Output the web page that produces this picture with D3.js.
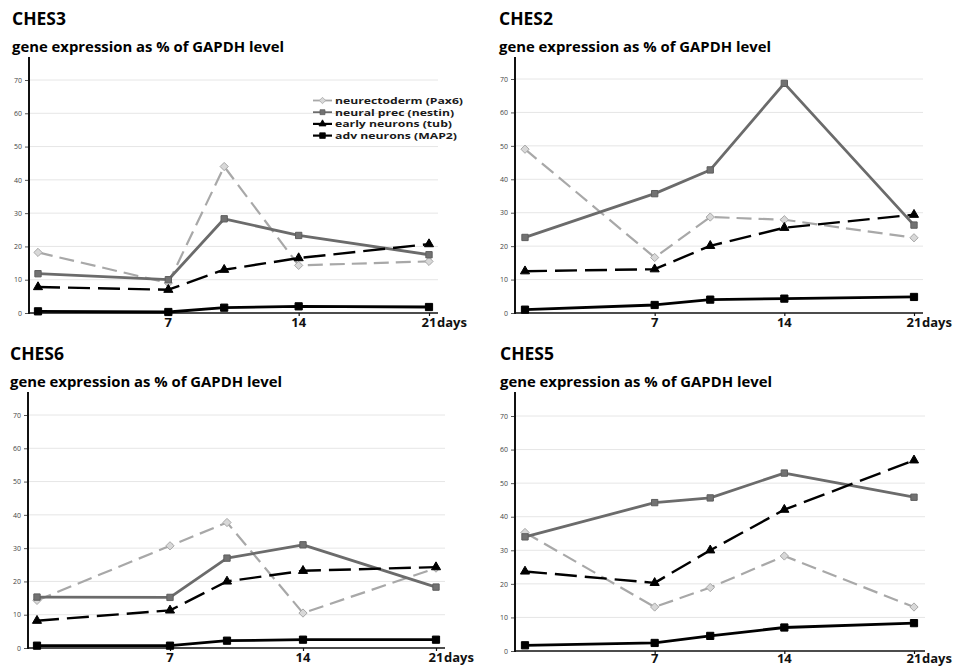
<!DOCTYPE html>
<html>
<head>
<meta charset="utf-8">
<script src="https://cdn.jsdelivr.net/npm/d3@7"></script>
<style>
  html, body { margin: 0; padding: 0; background: #ffffff; }
  svg { display: block; }
  text { font-family: "Open Sans", "Noto Sans", sans-serif; }
</style>
</head>
<body>
<svg id="chart" width="956" height="668"></svg>
<script>
// Sampling days (x values)
const days = [0, 7, 10, 14, 21];
const xTickDays = [7, 14, 21];
const xTickLabels = ["7", "14", "21"];
const xUnit = "days";
const yTicks = [0, 10, 20, 30, 40, 50, 60, 70];

const panelNames = ["CHES3", "CHES2", "CHES6", "CHES5"];
const yTitle = "gene expression as % of GAPDH level";
const seriesNames = ["neurectoderm (Pax6)", "neural prec (nestin)", "early neurons (tub)", "adv neurons (MAP2)"];

// Expression values (% of GAPDH) per line, per time point
const ches3Pax6   = [18.2, 9.0, 44.0, 14.3, 15.5];
const ches3Nestin = [11.8, 10.0, 28.3, 23.3, 17.5];
const ches3Tub    = [7.8, 7.0, 13.0, 16.5, 20.7];
const ches3Map2   = [0.5, 0.3, 1.6, 2.0, 1.8];

const ches2Pax6   = [49.0, 16.6, 28.7, 27.9, 22.5];
const ches2Nestin = [22.6, 35.7, 42.8, 68.7, 26.3];
const ches2Tub    = [12.5, 13.1, 20.1, 25.5, 29.4];
const ches2Map2   = [1.0, 2.4, 4.0, 4.3, 4.8];

const ches6Pax6   = [14.3, 30.7, 37.7, 10.5, 24.0];
const ches6Nestin = [15.3, 15.2, 27.0, 31.0, 18.3];
const ches6Tub    = [8.2, 11.3, 20.0, 23.2, 24.3];
const ches6Map2   = [0.7, 0.7, 2.2, 2.5, 2.5];

const ches5Pax6   = [35.3, 13.1, 18.9, 28.3, 13.1];
const ches5Nestin = [34.0, 44.2, 45.6, 53.0, 45.8];
const ches5Tub    = [23.7, 20.3, 30.0, 42.1, 56.8];
const ches5Map2   = [1.7, 2.4, 4.5, 7.0, 8.3];

const panelValues = [
  [ches3Pax6, ches3Nestin, ches3Tub, ches3Map2],
  [ches2Pax6, ches2Nestin, ches2Tub, ches2Map2],
  [ches6Pax6, ches6Nestin, ches6Tub, ches6Map2],
  [ches5Pax6, ches5Nestin, ches5Tub, ches5Map2]
];

// Panel placement
const layout = [
  { axisX: 29,  d0: 38,  d21: 429, base: 313, top70: 80,  gridEnd: 438, axisTop: 57,  titleX: 12,  titleY: 25,  subY: 52,  tickY: 327 },
  { axisX: 515, d0: 525, d21: 914, base: 313, top70: 79,  gridEnd: 923, axisTop: 57,  titleX: 499, titleY: 25,  subY: 52,  tickY: 327 },
  { axisX: 28,  d0: 37,  d21: 436, base: 648, top70: 415, gridEnd: 445, axisTop: 392, titleX: 10,  titleY: 360, subY: 387, tickY: 662 },
  { axisX: 515, d0: 525, d21: 914, base: 651, top70: 416, gridEnd: 925, axisTop: 392, titleX: 500, titleY: 360, subY: 387, tickY: 663 }
];

// Legend text widths
const legendWidths = [128, 119, 117, 122];

// Diamond marker: a square turned 45 degrees
const diamond = {
  draw(ctx, size) {
    const r = Math.sqrt(size / 2);
    ctx.moveTo(0, -r); ctx.lineTo(r, 0); ctx.lineTo(0, r); ctx.lineTo(-r, 0); ctx.closePath();
  }
};

// Series styling
const styles = [
  { stroke: "#a8a8a8", width: 2.2, dash: "15,7", symbol: diamond,          size: 34, fill: "#d8d8d8", mstroke: "#a8a8a8" },
  { stroke: "#6b6b6b", width: 2.8, dash: null,   symbol: d3.symbolSquare,  size: 40, fill: "#727272", mstroke: "#5e5e5e" },
  { stroke: "#000000", width: 2.4, dash: "22,8", symbol: d3.symbolTriangle,size: 36, fill: "#000000", mstroke: "#000000" },
  { stroke: "#000000", width: 2.8, dash: null,   symbol: d3.symbolSquare,  size: 52, fill: "#000000", mstroke: "#000000" }
];

const svg = d3.select("#chart");

panelNames.forEach((name, pi) => {
  const L = layout[pi];
  const g = svg.append("g");
  const x = d3.scaleLinear().domain([0, 21]).range([L.d0, L.d21]);
  const y = d3.scaleLinear().domain([0, 70]).range([L.base, L.top70]);

  // Titles
  g.append("text").attr("x", L.titleX).attr("y", L.titleY)
    .attr("font-size", 17).attr("font-weight", 700).attr("fill", "#000")
    .attr("textLength", 54).attr("lengthAdjust", "spacingAndGlyphs")
    .text(name);
  g.append("text").attr("x", L.titleX).attr("y", L.subY)
    .attr("font-size", 14).attr("font-weight", 700).attr("fill", "#000")
    .attr("textLength", 272).attr("lengthAdjust", "spacingAndGlyphs")
    .text(yTitle);

  // Horizontal gridlines
  g.append("g").selectAll("line").data(yTicks.filter(t => t > 0)).join("line")
    .attr("x1", L.axisX).attr("x2", L.gridEnd)
    .attr("y1", d => y(d)).attr("y2", d => y(d))
    .attr("stroke", "#e6e6e6").attr("stroke-width", 1);

  // Y axis
  const yAxis = g.append("g").attr("transform", `translate(${L.axisX},0)`)
    .call(d3.axisLeft(y).tickValues(yTicks).tickSize(4).tickPadding(3));
  yAxis.select(".domain").remove();
  yAxis.selectAll(".tick line").attr("stroke", "#555").attr("stroke-width", 1);
  yAxis.selectAll(".tick text").attr("font-size", 7).attr("fill", "#444")
    .attr("font-family", "DejaVu Sans, sans-serif");
  g.append("line").attr("x1", L.axisX).attr("x2", L.axisX)
    .attr("y1", L.axisTop).attr("y2", L.base + 1)
    .attr("stroke", "#111").attr("stroke-width", 2);

  // X axis
  const xAxis = g.append("g").attr("transform", `translate(0,${L.base})`)
    .call(d3.axisBottom(x).tickValues(xTickDays).tickSize(3).tickFormat(() => ""));
  xAxis.select(".domain").remove();
  xAxis.selectAll(".tick line").attr("stroke", "#111").attr("stroke-width", 1.2);
  g.append("line").attr("x1", L.axisX).attr("x2", L.gridEnd)
    .attr("y1", L.base).attr("y2", L.base)
    .attr("stroke", "#111").attr("stroke-width", 1.6);
  g.append("g").selectAll("text").data(xTickDays).join("text")
    .attr("x", d => x(d)).attr("y", L.tickY)
    .attr("text-anchor", "middle")
    .attr("font-size", 13).attr("font-weight", 700).attr("fill", "#111")
    .text((d, i) => xTickLabels[i]);
  g.append("text").attr("x", x(21) + 8).attr("y", L.tickY)
    .attr("font-size", 13).attr("font-weight", 700).attr("fill", "#111")
    .text(xUnit);

  // Series lines and markers
  const line = d3.line().x((d, i) => x(days[i])).y(d => y(d));
  panelValues[pi].forEach((vals, si) => {
    const s = styles[si];
    g.append("path").datum(vals)
      .attr("d", line).attr("fill", "none")
      .attr("stroke", s.stroke).attr("stroke-width", s.width)
      .attr("stroke-dasharray", s.dash).attr("stroke-linejoin", "round");
    g.append("g").selectAll("path").data(vals).join("path")
      .attr("transform", (d, i) => `translate(${x(days[i])},${y(d)})`)
      .attr("d", d3.symbol().type(s.symbol).size(s.size))
      .attr("fill", s.fill).attr("stroke", s.mstroke).attr("stroke-width", 1);
  });

  // Legend (first panel)
  if (pi === 0) {
    const lg = g.append("g").attr("transform", "translate(313,100.5)");
    seriesNames.forEach((nm, si) => {
      const s = styles[si];
      const row = lg.append("g").attr("transform", `translate(0,${si * 11.7})`);
      row.append("line").attr("x1", 0).attr("x2", 19).attr("y1", 0).attr("y2", 0)
        .attr("stroke", s.stroke).attr("stroke-width", si >= 2 ? 2.2 : 1.8);
      row.append("path").attr("transform", "translate(9.5,0)")
        .attr("d", d3.symbol().type(s.symbol).size(s.size * 0.6))
        .attr("fill", s.fill).attr("stroke", s.mstroke).attr("stroke-width", 0.8);
      row.append("text").attr("x", 22).attr("y", 3.5)
        .attr("font-size", 9.5).attr("font-weight", 700).attr("fill", "#1a1a1a")
        .attr("textLength", legendWidths[si]).attr("lengthAdjust", "spacingAndGlyphs")
        .text(nm);
    });
  }
});
</script>
</body>
</html>
